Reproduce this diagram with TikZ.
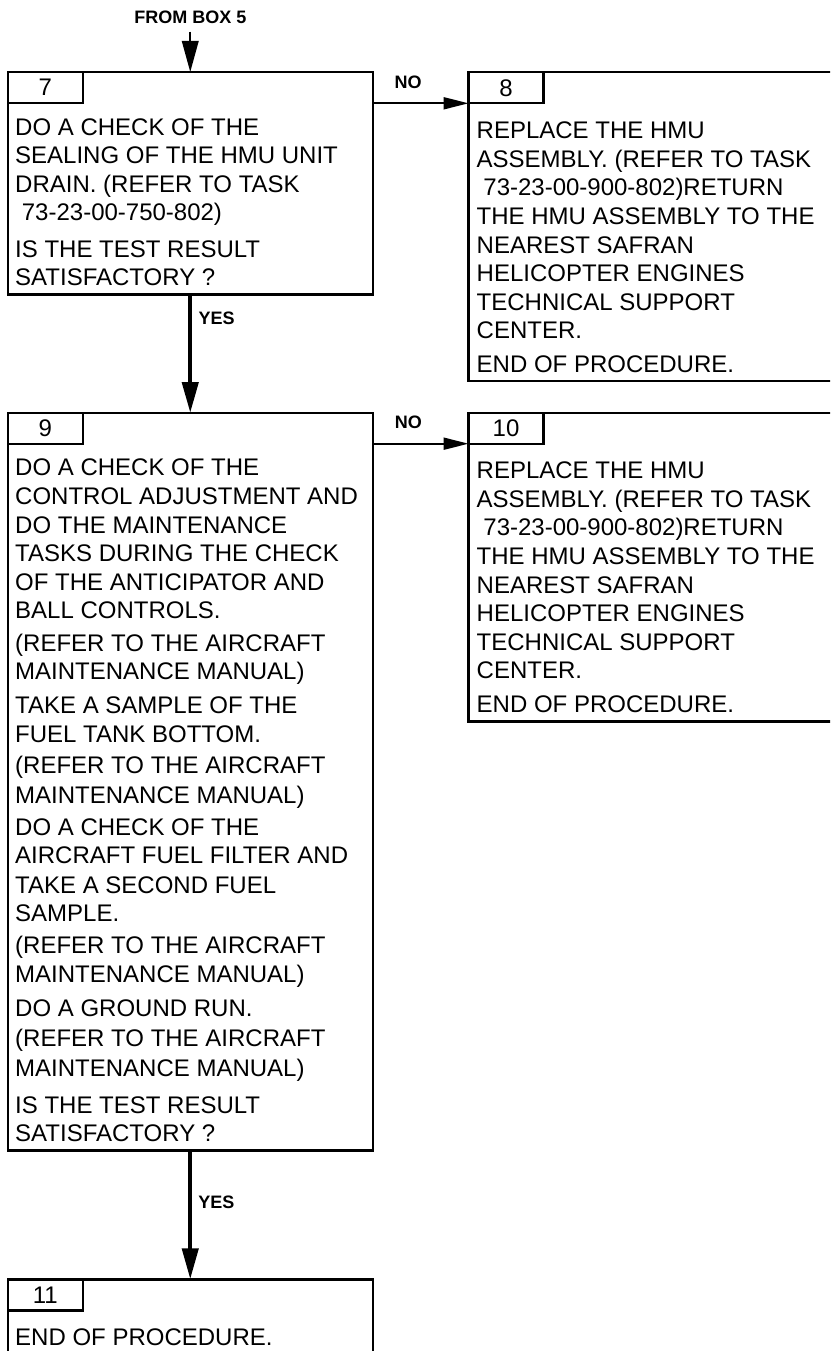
\documentclass[tikz,border=0pt]{standalone}
\usepackage{fontspec}
\setmainfont{Liberation Sans}
\usetikzlibrary{arrows.meta}
\begin{document}
\begin{tikzpicture}[x=1pt,y=-1pt,
  box/.style={draw,line width=2.4pt,inner sep=0pt,outer sep=0pt,anchor=north west},
  tab/.style={draw,line width=2.4pt,inner sep=0pt,outer sep=0pt,anchor=north west,
    minimum width=75pt,minimum height=31pt,font=\fontsize{24}{28}\selectfont},
  txt/.style={anchor=base west,inner sep=0pt,font=\fontsize{24}{28}\selectfont},
  lbl/.style={anchor=base,inner sep=0pt,font=\bfseries\fontsize{18}{20}\selectfont},
  yesarrow/.style={line width=4.3pt,-{Triangle[length=31pt,width=16pt]}},
  noarrow/.style={line width=2pt,-{Triangle[length=25pt,width=12pt]}},
  inarrow/.style={line width=2pt,-{Triangle[length=31pt,width=16.5pt]}}]
\useasboundingbox (0,0) rectangle (830,1351);
\clip (0,0) rectangle (830,1351);
\fill[white] (0,0) rectangle (830,1351);

% boxes
\node[box,minimum width=364.9pt,minimum height=222.3pt] (b7) at (7.8,72) {};
\node[tab] (t7) at (7.8,72) {7};
\node[box,minimum width=380pt,minimum height=308.7pt] (b8) at (468.5,72.3) {};
\node[tab] (t8) at (468.5,72.3) {8};
\node[box,minimum width=364.9pt,minimum height=737.3pt] (b9) at (7.8,413) {};
\node[tab] (t9) at (7.8,413) {9};
\node[box,minimum width=380pt,minimum height=308.8pt] (b10) at (468.5,412.7) {};
\node[tab] (t10) at (468.5,412.7) {10};
\node[box,minimum width=364.9pt,minimum height=100pt] (b11) at (7.8,1279.3) {};
\node[tab] (t11) at (7.8,1279.3) {11};

% box texts
\foreach \y/\t [count=\i] in {
  135.3/{DO A CHECK OF THE},
  163.8/{SEALING OF THE HMU UNIT},
  192.3/{DRAIN. (REFER TO TASK},
  220.8/{\hspace*{6.7pt}73-23-00-750-802)},
  257.6/{IS THE TEST RESULT},
  285.3/{SATISFACTORY ?}}
  \node[txt] (l7-\i) at (15,\y) {\t};

\foreach \y/\t [count=\i] in {
  138.6/{REPLACE THE HMU},
  167.2/{ASSEMBLY. (REFER TO TASK},
  195.8/{\hspace*{6.7pt}73-23-00-900-802)RETURN},
  224.4/{THE HMU ASSEMBLY TO THE},
  253/{NEAREST SAFRAN},
  281.6/{HELICOPTER ENGINES},
  310.2/{TECHNICAL SUPPORT},
  338.8/{CENTER.},
  372.9/{END OF PROCEDURE.}}
  \node[txt] (l8-\i) at (476.5,\y) {\t};

\foreach \y/\t [count=\i] in {
  475.3/{DO A CHECK OF THE},
  504.3/{CONTROL ADJUSTMENT AND},
  533/{DO THE MAINTENANCE},
  561.3/{TASKS DURING THE CHECK},
  590.3/{OF THE ANTICIPATOR AND},
  618.6/{BALL CONTROLS.},
  651/{(REFER TO THE AIRCRAFT},
  679.6/{MAINTENANCE MANUAL)},
  713.6/{TAKE A SAMPLE OF THE},
  742/{FUEL TANK BOTTOM.},
  773.6/{(REFER TO THE AIRCRAFT},
  803.6/{MAINTENANCE MANUAL)},
  835.3/{DO A CHECK OF THE},
  863.6/{AIRCRAFT FUEL FILTER AND},
  893.6/{TAKE A SECOND FUEL},
  921.6/{SAMPLE.},
  953.6/{(REFER TO THE AIRCRAFT},
  982.6/{MAINTENANCE MANUAL)},
  1016.3/{DO A GROUND RUN.},
  1046.6/{(REFER TO THE AIRCRAFT},
  1076.6/{MAINTENANCE MANUAL)},
  1113.6/{IS THE TEST RESULT},
  1141.6/{SATISFACTORY ?}}
  \node[txt] (l9-\i) at (15,\y) {\t};

\foreach \y/\t [count=\i] in {
  478.6/{REPLACE THE HMU},
  507.2/{ASSEMBLY. (REFER TO TASK},
  535.8/{\hspace*{6.7pt}73-23-00-900-802)RETURN},
  564.4/{THE HMU ASSEMBLY TO THE},
  593/{NEAREST SAFRAN},
  621.6/{HELICOPTER ENGINES},
  650.2/{TECHNICAL SUPPORT},
  678.8/{CENTER.},
  712.9/{END OF PROCEDURE.}}
  \node[txt] (l10-\i) at (476.5,\y) {\t};

\node[txt] (l11-1) at (15,1345.6) {END OF PROCEDURE.};

% labels
\node[lbl] (lfrom) at (190.5,23.1) {FROM BOX 5};
\node[lbl] (lno1) at (408,88.1) {NO};
\node[lbl] (lyes1) at (216.7,324) {YES};
\node[lbl] (lno2) at (408.3,428.1) {NO};
\node[lbl] (lyes2) at (216.3,1208.7) {YES};

% connectors
\coordinate (from5) at (190.25,31.7);
\draw[inarrow] (from5) -- (b7.north);
\draw[yesarrow] (b7.south) -- (b9.north);
\draw[noarrow] (b7.east |- t8.south) -- (t8.south west);
\draw[noarrow] (b9.east |- t10.south) -- (t10.south west);
\draw[yesarrow] (b9.south) -- (b11.north);
\end{tikzpicture}
\end{document}
